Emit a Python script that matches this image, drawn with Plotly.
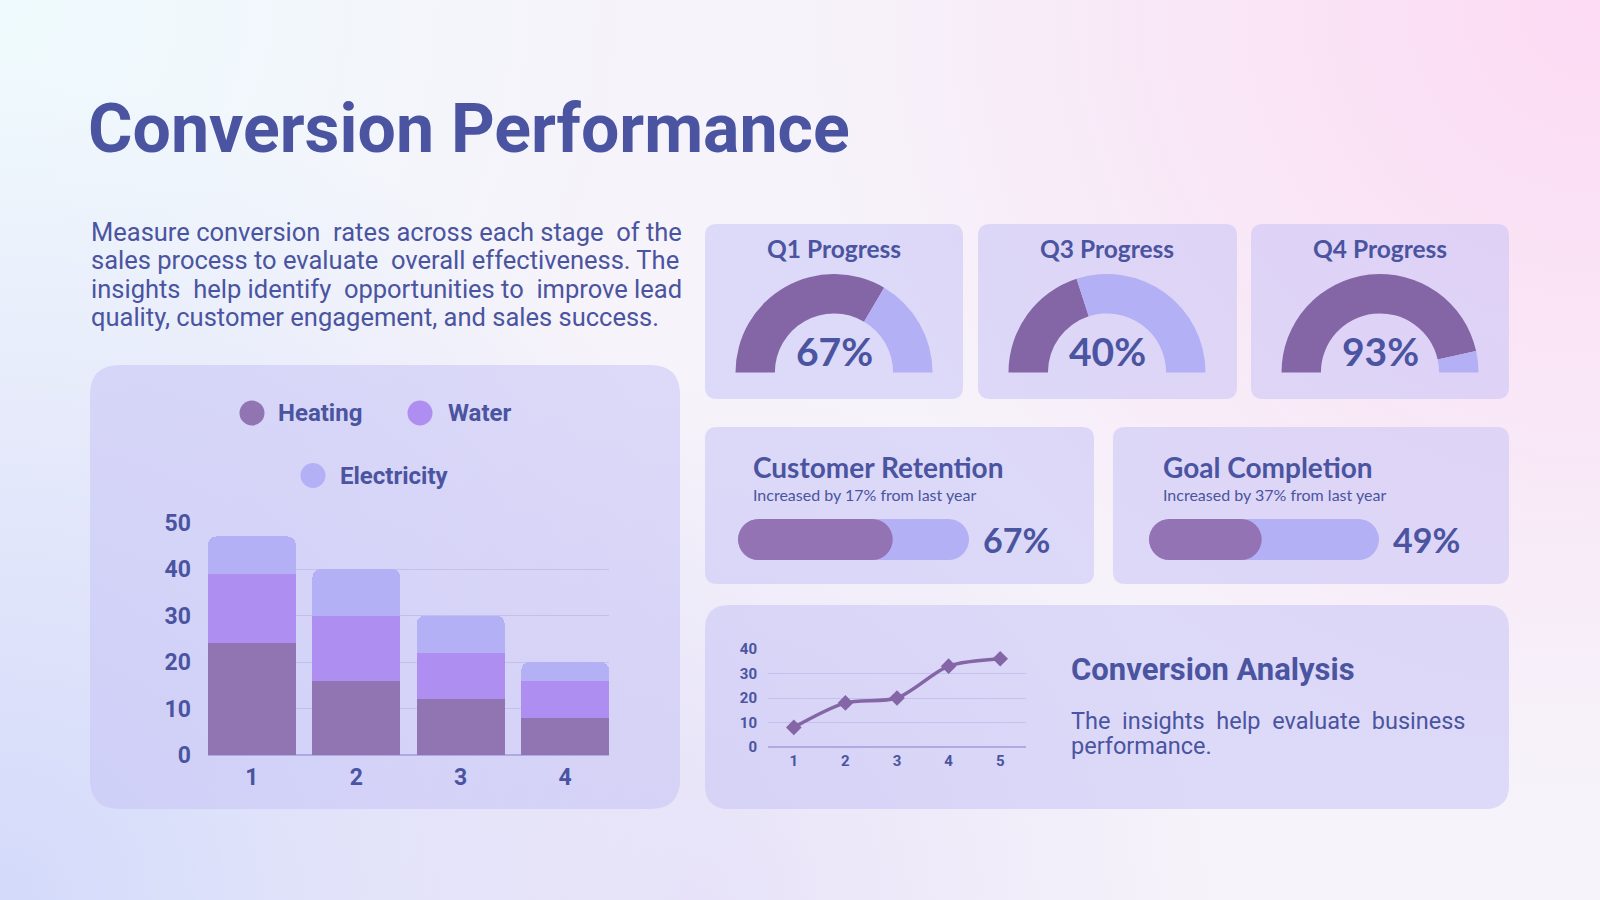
import base64
import plotly.graph_objects as go

W, H = 1600, 900
NB = '\u00a0'

# ---- data ----
categories = [1, 2, 3, 4]
series_names = ['Heating', 'Water', 'Electricity']
heating = [24, 16, 12, 8]
water = [15, 14, 10, 8]
electricity = [8, 10, 8, 4]

gauge_labels = ['Q1 Progress', 'Q3 Progress', 'Q4 Progress']
gauge_values = [67, 40, 93]

progress_titles = ['Customer Retention', 'Goal Completion']
progress_notes = ['Increased by 17% from last year', 'Increased by 37% from last year']
progress_values = [67, 49]

line_x = [1, 2, 3, 4, 5]
line_y = [8, 18, 20, 33, 36]

title_text = 'Conversion Performance'
# extra no-break spaces roughly imitate the justified paragraph
intro_lines = [
    f'Measure conversion {NB}rates across each stage {NB}of the',
    f'sales process to evaluate {NB}overall effectiveness. The',
    f'insights {NB}help identify {NB}opportunities to {NB}improve lead',
    'quality, customer engagement, and sales success.',
]
analysis_title = 'Conversion Analysis'
analysis_lines = [f'The {NB}insights {NB}help {NB}evaluate {NB}business', 'performance.']

# ---- styles ----
TEXT = '#4a54a0'
BAR_COLORS = ['#9175b2', '#af8ef2', '#b4b0f5']
GAUGE_ON = '#8466a6'
GAUGE_OFF = '#b3b0f5'
PILL_ON = '#9373b3'
PILL_OFF = '#b3b0f5'
CARD_FILL = 'rgba(198,194,246,0.52)'
GRID = 'rgba(150,145,215,0.30)'
ZERO = 'rgba(140,135,210,0.55)'


def px(x):
    return x / W


def py(y):
    return 1 - y / H


def rounded_box(x0, y0, x1, y1, r):
    rx, ry = r / W, r / H
    X0, X1 = px(x0), px(x1)
    T, B = py(y0), py(y1)
    return (f'M {X0 + rx},{B} L {X1 - rx},{B} Q {X1},{B} {X1},{B + ry} '
            f'L {X1},{T - ry} Q {X1},{T} {X1 - rx},{T} L {X0 + rx},{T} '
            f'Q {X0},{T} {X0},{T - ry} L {X0},{B + ry} Q {X0},{B} {X0 + rx},{B} Z')


def font(size, family='Roboto', weight=400, color=TEXT):
    return dict(size=size, family=family, weight=weight, color=color)


# background gradient as an svg image
bg_svg = '''<svg xmlns="http://www.w3.org/2000/svg" width="1600" height="900" viewBox="0 0 1600 900" preserveAspectRatio="none">
<defs>
<radialGradient id="tl" cx="0" cy="0" r="650" gradientUnits="userSpaceOnUse"><stop offset="0" stop-color="#eefafd"/><stop offset="1" stop-color="#eefafd" stop-opacity="0"/></radialGradient>
<radialGradient id="tr" cx="1600" cy="0" r="800" gradientUnits="userSpaceOnUse"><stop offset="0" stop-color="#fcdaf3"/><stop offset="1" stop-color="#fcdaf3" stop-opacity="0"/></radialGradient>
<radialGradient id="bl" cx="0" cy="900" r="820" gradientUnits="userSpaceOnUse"><stop offset="0" stop-color="#d3dafa"/><stop offset="1" stop-color="#d3dafa" stop-opacity="0"/></radialGradient>
<radialGradient id="bc" cx="700" cy="900" r="520" gradientUnits="userSpaceOnUse"><stop offset="0" stop-color="#e2dcf8" stop-opacity="0.7"/><stop offset="1" stop-color="#e2dcf8" stop-opacity="0"/></radialGradient>
</defs>
<rect width="1600" height="900" fill="#f6f3fa"/>
<rect width="1600" height="900" fill="url(#tl)"/>
<rect width="1600" height="900" fill="url(#tr)"/>
<rect width="1600" height="900" fill="url(#bl)"/>
<rect width="1600" height="900" fill="url(#bc)"/>
</svg>'''
bg_src = 'data:image/svg+xml;base64,' + base64.b64encode(bg_svg.encode()).decode()

fig = go.Figure()

# stacked bars
for name, vals, col in zip(series_names, [heating, water, electricity], BAR_COLORS):
    fig.add_trace(go.Bar(x=categories, y=vals, name=name, marker=dict(color=col, line=dict(width=0)),
                         xaxis='x', yaxis='y', showlegend=False, hoverinfo='skip'))

# gauges
gauge_cx = [834, 1107, 1380]
gauge_cy, gauge_r = 372.5, 98.5
for cx, val in zip(gauge_cx, gauge_values):
    fig.add_trace(go.Pie(
        values=[val, 100 - val, 100], labels=['done', 'left', 'pad'], sort=False,
        direction='clockwise', rotation=270, hole=0.6, textinfo='none', hoverinfo='skip',
        marker=dict(colors=[GAUGE_ON, GAUGE_OFF, 'rgba(0,0,0,0)'], line=dict(width=0)),
        showlegend=False,
        domain=dict(x=[px(cx - gauge_r), px(cx + gauge_r)], y=[py(gauge_cy + gauge_r), py(gauge_cy - gauge_r)]),
    ))

# progress pills
pill_h = 41
pill_boxes = [(738, 969), (1149, 1379)]
for i, val in enumerate(progress_values):
    ax = str(3 + i)
    cap = pill_h / 2 / (pill_boxes[i][1] - pill_boxes[i][0]) * 100
    for xs, col in [([cap, 100 - cap], PILL_OFF), ([cap, val - cap], PILL_ON)]:
        fig.add_trace(go.Scatter(x=xs, y=[0.5, 0.5], mode='lines+markers',
                                 line=dict(color=col, width=pill_h),
                                 marker=dict(size=pill_h, color=col, line=dict(width=0)),
                                 xaxis='x' + ax, yaxis='y' + ax, cliponaxis=False,
                                 showlegend=False, hoverinfo='skip'))

# line chart
fig.add_trace(go.Scatter(x=line_x, y=line_y, mode='lines+markers',
                         line=dict(color=GAUGE_ON, width=3.5, shape='spline', smoothing=0.8),
                         marker=dict(symbol='diamond', size=12, color=GAUGE_ON),
                         xaxis='x2', yaxis='y2', cliponaxis=False, showlegend=False, hoverinfo='skip'))

# cards
shapes = []
for box, r in [((90, 365, 680, 809), 30),
               ((705, 224, 963, 399), 12), ((978, 224, 1237, 399), 12), ((1251, 224, 1509, 399), 12),
               ((705, 427, 1094, 584), 12), ((1113, 427, 1509, 584), 12),
               ((705, 605, 1509, 809), 24)]:
    shapes.append(dict(type='path', path=rounded_box(*box, r), xref='paper', yref='paper',
                       fillcolor=CARD_FILL, line=dict(width=0), layer='below'))

# legend dots
legend_pos = [(252, 413, 276), (420, 413, 446), (313, 475.5, 338)]
for (cx, cy, tx), col in zip(legend_pos, BAR_COLORS):
    shapes.append(dict(type='circle', xref='paper', yref='paper', xsizemode='pixel', ysizemode='pixel',
                       xanchor=px(cx), yanchor=py(cy), x0=-12.5, x1=12.5, y0=-12.5, y1=12.5,
                       fillcolor=col, line=dict(width=0)))

ann = []


def text(x, y, s, f, xanchor='left'):
    ann.append(dict(x=px(x), y=py(y), xref='paper', yref='paper', text=s, showarrow=False,
                    xanchor=xanchor, yanchor='middle', font=f))


text(86, 129, title_text, font(68, weight=700))
for i, line in enumerate(intro_lines):
    text(89, 231.5 + i * 28.6, line, font(25.5))

for (cx, cy, tx), name in zip(legend_pos, series_names):
    text(tx, cy, name, font(24, weight=700))

for cx, lbl, val in zip(gauge_cx, gauge_labels, gauge_values):
    text(cx, 249, lbl, font(24.5, 'Lato', 700), 'center')
    text(cx, 351, f'{val}%', font(39, 'Lato', 700), 'center')

for i, (t, n, v) in enumerate(zip(progress_titles, progress_notes, progress_values)):
    lx = [751, 1161][i]
    text(lx, 467, t, font(28, 'Lato', 700))
    text(lx, 494.5, n, font(16, 'Lato', 400))
    text(pill_boxes[i][1] + 12, 539, f'{v}%', font(34, 'Lato', 700))

text(1069, 669, analysis_title, font(31, weight=700))
for i, line in enumerate(analysis_lines):
    text(1069, 720.5 + i * 25.5, line, font(23.5))

hidden = dict(visible=False, fixedrange=True, automargin=False)
fig.update_layout(
    width=W, height=H, autosize=False,
    margin=dict(l=0, r=0, t=0, b=0, pad=0, autoexpand=False),
    paper_bgcolor='#f6f3fa', plot_bgcolor='rgba(0,0,0,0)',
    barmode='stack', bargap=0.16, barcornerradius=8,
    images=[dict(source=bg_src, xref='paper', yref='paper', x=0, y=1, sizex=1, sizey=1,
                 xanchor='left', yanchor='top', sizing='stretch', layer='below')],
    shapes=shapes, annotations=ann,
    xaxis=dict(domain=[px(208), px(609)], range=[0.58, 4.42], tickvals=categories, anchor='y',
               showgrid=False, zeroline=False, showline=False, ticks='', ticklabelstandoff=6,
               tickfont=font(23, weight=700), fixedrange=True, automargin=False),
    yaxis=dict(domain=[py(755), py(522.5)], range=[0, 50], dtick=10, anchor='x',
               gridcolor=GRID, gridwidth=1, zeroline=True, zerolinecolor=ZERO, zerolinewidth=1.5,
               showline=False, ticks='', ticklabelstandoff=16, tickfont=font(23, weight=700),
               fixedrange=True, automargin=False),
    xaxis2=dict(domain=[px(768), px(1026)], range=[0.5, 5.5], tickvals=line_x, anchor='y2',
                showgrid=False, zeroline=False, showline=False, ticks='', ticklabelstandoff=3,
                tickfont=font(15, weight=700), fixedrange=True, automargin=False),
    yaxis2=dict(domain=[py(747), py(649)], range=[0, 40], dtick=10, anchor='x2',
                gridcolor=GRID, gridwidth=1, zeroline=True, zerolinecolor=ZERO, zerolinewidth=1.5,
                showline=False, ticks='', ticklabelstandoff=10, tickfont=font(15, weight=700),
                fixedrange=True, automargin=False),
    xaxis3=dict(domain=[px(738), px(969)], range=[0, 100], anchor='y3', **hidden),
    yaxis3=dict(domain=[py(560), py(519)], range=[0, 1], anchor='x3', **hidden),
    xaxis4=dict(domain=[px(1149), px(1379)], range=[0, 100], anchor='y4', **hidden),
    yaxis4=dict(domain=[py(560), py(519)], range=[0, 1], anchor='x4', **hidden),
)

fig.write_html('out.html', config={'displayModeBar': False},
               post_script="document.body.style.margin='0';document.body.style.overflow='hidden';")
